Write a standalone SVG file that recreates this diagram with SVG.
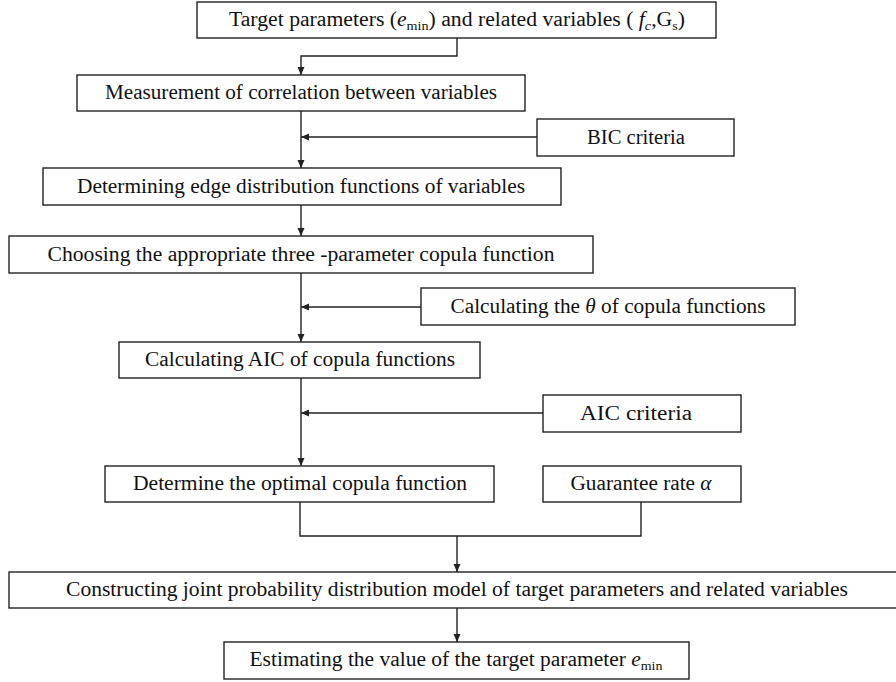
<svg xmlns="http://www.w3.org/2000/svg" width="896" height="682" viewBox="0 0 896 682">
<style>
.box{fill:#fff;stroke:#222;stroke-width:1.4}
.t{font-family:"Liberation Serif","Times New Roman",serif;font-size:20px;fill:#111;text-anchor:middle}
.i{font-style:italic}
.sub{font-size:13px}
.c{fill:none;stroke:#222;stroke-width:1.4}
</style>
<defs>
<marker id="ah" markerUnits="userSpaceOnUse" markerWidth="8" markerHeight="8" refX="8" refY="3.5" orient="auto">
<path d="M0,0 L8,3.5 L0,7 z" fill="#222"/>
</marker>
</defs>
<rect width="896" height="682" fill="#fff"/>
<g id="connectors">
<path class="c" d="M457,38 V56 H301 V75" marker-end="url(#ah)"/>
<path class="c" d="M301,111 V168" marker-end="url(#ah)"/>
<path class="c" d="M537,137 H301" marker-end="url(#ah)"/>
<path class="c" d="M301,205 V236" marker-end="url(#ah)"/>
<path class="c" d="M301,273 V342" marker-end="url(#ah)"/>
<path class="c" d="M421,307 H301" marker-end="url(#ah)"/>
<path class="c" d="M301,378 V466" marker-end="url(#ah)"/>
<path class="c" d="M543,413 H301" marker-end="url(#ah)"/>
<path class="c" d="M300,502 V536 H641 V502"/>
<path class="c" d="M457,536 V572" marker-end="url(#ah)"/>
<path class="c" d="M457,608 V642" marker-end="url(#ah)"/>
</g>
<g id="n1">
<rect class="box" x="197" y="2" width="519" height="36"/>
<text class="t" x="457" y="26" textLength="456" lengthAdjust="spacingAndGlyphs">Target parameters (<tspan class="i">e</tspan><tspan class="sub" dy="4">min</tspan><tspan dy="-4">) and related variables ( </tspan><tspan class="i">f</tspan><tspan class="sub i" dy="4">c</tspan><tspan dy="-4">,G</tspan><tspan class="sub" dy="4">s</tspan><tspan dy="-4">)</tspan></text>
</g>
<g id="n2">
<rect class="box" x="77" y="75" width="448" height="36"/>
<text class="t" x="301" y="99" textLength="392" lengthAdjust="spacingAndGlyphs">Measurement of correlation between variables</text>
</g>
<g id="n3">
<rect class="box" x="537" y="119" width="197" height="37"/>
<text class="t" x="636" y="144" textLength="98" lengthAdjust="spacingAndGlyphs">BIC criteria</text>
</g>
<g id="n4">
<rect class="box" x="43" y="168" width="518" height="37"/>
<text class="t" x="301" y="193" textLength="448" lengthAdjust="spacingAndGlyphs">Determining edge distribution functions of variables</text>
</g>
<g id="n5">
<rect class="box" x="9" y="236" width="584" height="37"/>
<text class="t" x="301" y="261" textLength="507" lengthAdjust="spacingAndGlyphs">Choosing the appropriate three -parameter copula function</text>
</g>
<g id="n6">
<rect class="box" x="421" y="288" width="374" height="37"/>
<text class="t" x="608" y="313" textLength="315" lengthAdjust="spacingAndGlyphs">Calculating the <tspan class="i">θ</tspan> of copula functions</text>
</g>
<g id="n7">
<rect class="box" x="119" y="342" width="361" height="36"/>
<text class="t" x="300" y="366" textLength="310" lengthAdjust="spacingAndGlyphs">Calculating AIC of copula functions</text>
</g>
<g id="n8">
<rect class="box" x="543" y="395" width="198" height="37"/>
<text class="t" x="636" y="420" textLength="112" lengthAdjust="spacingAndGlyphs">AIC criteria</text>
</g>
<g id="n9">
<rect class="box" x="105" y="466" width="389" height="36"/>
<text class="t" x="300" y="490" textLength="334" lengthAdjust="spacingAndGlyphs">Determine the optimal copula function</text>
</g>
<g id="n10">
<rect class="box" x="543" y="466" width="198" height="36"/>
<text class="t" x="641" y="490" textLength="141" lengthAdjust="spacingAndGlyphs">Guarantee rate <tspan class="i">α</tspan></text>
</g>
<g id="n11">
<rect class="box" x="9" y="572" width="896" height="36"/>
<text class="t" x="457" y="596" textLength="782" lengthAdjust="spacingAndGlyphs">Constructing joint probability distribution model of target parameters and related variables</text>
</g>
<g id="n12">
<rect class="box" x="224" y="642" width="465" height="37"/>
<text class="t" x="456" y="666" textLength="413" lengthAdjust="spacingAndGlyphs">Estimating the value of the target parameter <tspan class="i">e</tspan><tspan class="sub" dy="4">min</tspan></text>
</g>
</svg>
